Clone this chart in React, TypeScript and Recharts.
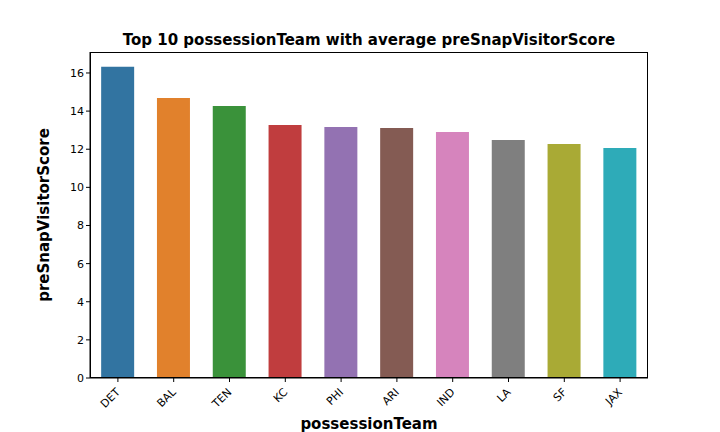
import React from 'react';
import { BarChart, Bar, XAxis, YAxis, Cell, Label } from 'recharts';

const teams = ['DET', 'BAL', 'TEN', 'KC', 'PHI', 'ARI', 'IND', 'LA', 'SF', 'JAX'];
const scores = [16.32, 14.69, 14.27, 13.27, 13.17, 13.12, 12.91, 12.49, 12.28, 12.07];
const colors = ['#3274a1', '#e1812c', '#3a923a', '#c03d3e', '#9372b2', '#845b53', '#d684bd', '#7f7f7f', '#a9aa35', '#2eabb8'];
const yTicks = [0, 2, 4, 6, 8, 10, 12, 14, 16];

const data = teams.map((t, i) => ({ team: t, score: scores[i] }));

const RotTick: React.FC<any> = ({ x, y, payload }) => (
    <g transform={`translate(${x},${y + 6})`}>
        <text x={0} y={0} dy={4} textAnchor="end" transform="rotate(-45)" fill="#000" fontSize={11}>
            {payload.value}
        </text>
    </g>
);

const App: React.FC = () => {
    return (
        <div style={{ position: 'absolute', left: 0, top: 0, width: 720, height: 432, background: '#fff', fontFamily: 'DejaVu Sans' }}>
            <div style={{ position: 'absolute', left: 90, width: 558, top: 31, textAlign: 'center', fontWeight: 'bold', fontSize: 15 }}>
                Top 10 possessionTeam with average preSnapVisitorScore
            </div>
            <BarChart width={720} height={432} data={data} margin={{ top: 52, right: 72, left: 10, bottom: 0 }} barCategoryGap="20%">
                <XAxis dataKey="team" tick={<RotTick />} interval={0} height={54} stroke="#000" tickSize={4}>
                    <Label value="possessionTeam" position="insideBottom" offset={3} fill="#000" fontSize={15} fontWeight="bold" />
                </XAxis>
                <YAxis domain={[0, 17.1]} ticks={yTicks} width={80} stroke="#000" tickSize={4} tick={{ fill: '#000', fontSize: 11 }}>
                    <Label value="preSnapVisitorScore" angle={-90} position="insideLeft" offset={34} fill="#000" fontSize={15} fontWeight="bold" style={{ textAnchor: 'middle' }} />
                </YAxis>
                <Bar dataKey="score" isAnimationActive={false}>
                    {data.map((d, i) => <Cell key={d.team} fill={colors[i]} />)}
                </Bar>
            </BarChart>
            <div style={{ position: 'absolute', left: 90, top: 52, width: 558, height: 326, border: '1px solid #000', boxSizing: 'border-box', pointerEvents: 'none' }} />
        </div>
    );
};

export default App;
